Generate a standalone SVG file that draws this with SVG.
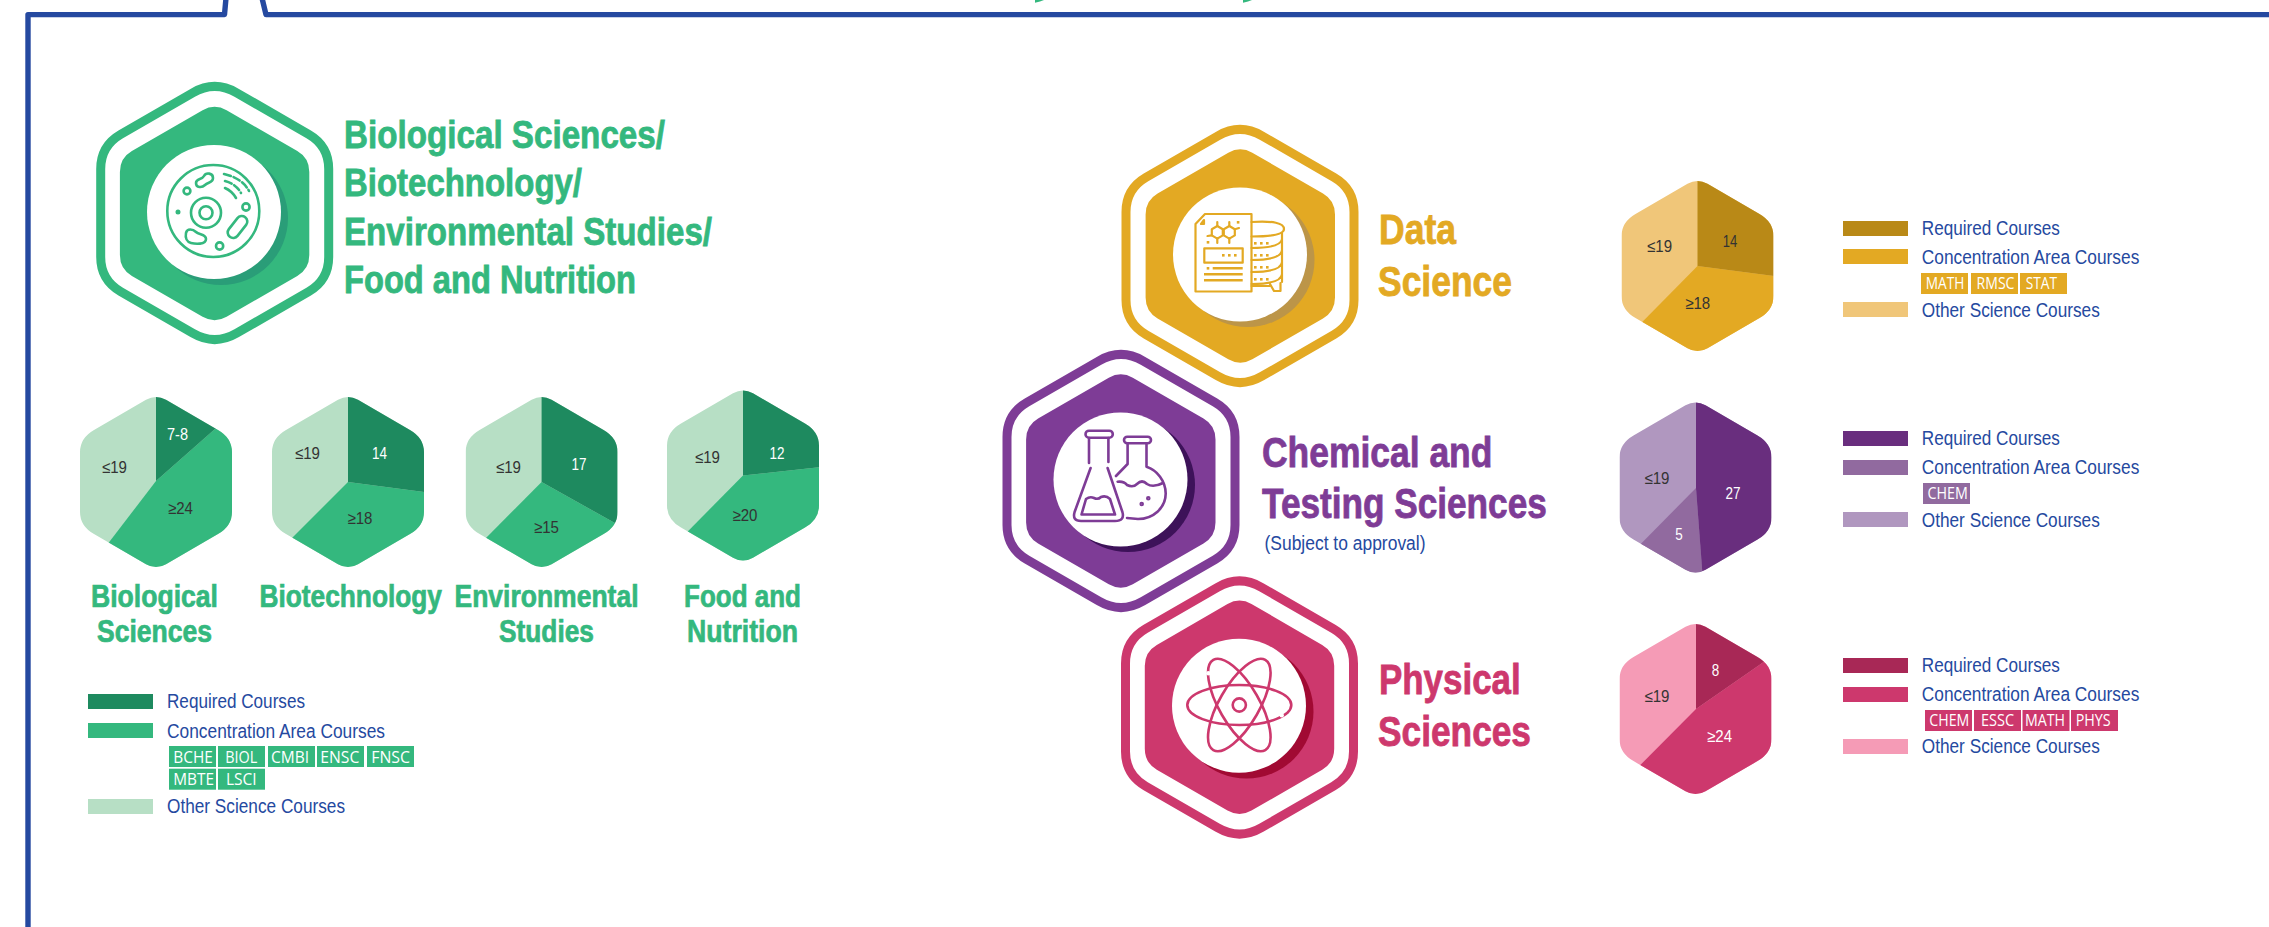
<svg xmlns="http://www.w3.org/2000/svg" width="2269" height="927" viewBox="0 0 2269 927">
<style>
text{font-family:"Liberation Sans",Arial,sans-serif}
.hd{font-weight:700;font-size:38px;stroke-width:.8px}
.hl{font-weight:700;font-size:42px;stroke-width:.8px}
.sb{font-weight:700;font-size:30.6px;fill:#34b87e;stroke:#34b87e;stroke-width:.7px}
.hd.g{stroke:#34b87e}.hl.y{stroke:#e3a923}.hl.p{stroke:#7e3c96}.hl.r{stroke:#cd386d}
.lg{font-size:20px;fill:#2549a0}
.tg{font-family:"Open Sans","Liberation Sans",sans-serif;font-size:16px;fill:#fff}
.n{font-size:16.5px;text-anchor:middle}
.dk{fill:#333}
.wh{fill:#fff}
.frame{fill:none;stroke:#2549a0;stroke-width:5.4;stroke-linejoin:round}
.ring{fill:none;stroke-width:9}
.g{fill:#34b87e}.gd{fill:#1e8a5f}.gl{fill:#b7dfc5}
.y{fill:#e3a923}.yd{fill:#b98917}.yl{fill:#f0c679}
.p{fill:#7e3c96}.pd{fill:#692e7e}.pm{fill:#916a9f}.pl{fill:#b097bf}
.r{fill:#cd386d}.rd{fill:#a82856}.rl{fill:#f59bb6}
.ic{fill:none;stroke-width:2.6;stroke-linecap:round;stroke-linejoin:round}
.icg{stroke:#34b87e}.icy{stroke:#e3a923}.icp{stroke:#7e3c96}.icr{stroke:#cd386d}
</style>
<defs>
<path id="ho" d="M-22,-120.2Q0,-133 22,-120.2L94,-78.6Q114,-67 114,-44L114,44Q114,67 94,78.6L22,120.2Q0,133 -22,120.2L-94,78.6Q-114,67 -114,44L-114,-44Q-114,-67 -94,-78.6Z"/>
<path id="hi" d="M-12,-103.3Q0,-110.2 12,-103.3L82.7,-62.4Q94.7,-55.5 94.7,-41.5L94.7,41.5Q94.7,55.5 82.7,62.4L12,103.3Q0,110.2 -12,103.3L-82.7,62.4Q-94.7,55.5 -94.7,41.5L-94.7,-41.5Q-94.7,-55.5 -82.7,-62.4Z"/>
<clipPath id="hc"><path d="M-10,-82.2Q0,-88 10,-82.2L62,-52.1Q76,-44 76,-30L76,30Q76,44 62,52.1L10,82.2Q0,88 -10,82.2L-62,52.1Q-76,44 -76,30L-76,-30Q-76,-44 -62,-52.1Z"/></clipPath>
</defs>
<rect width="2269" height="927" fill="#fff"/>
<g id="connectors">
<path class="frame" d="M28,927L28,14.6L224.5,14.6L226,-2"/>
<path class="frame" d="M262,-2L266,14.6L2272,14.6"/>
</g>
<polygon class="g" points="1035,0 1044,0 1040,1.5 1035,2.7"/>
<polygon class="g" points="1243,0 1252,0 1248,1.5 1243,2.7"/>

<g id="biological-main">
<use href="#ho" transform="translate(214.7,213)" class="ring" stroke="#34b87e"/>
<use href="#hi" transform="translate(214.6,213.5)" class="g"/>
<circle cx="221" cy="218" r="67" fill="#2a9d78"/>
<circle cx="214" cy="212" r="67" fill="#fff"/>
<g class="ic icg">
<circle cx="213.3" cy="211" r="46"/>
<circle cx="206" cy="212.7" r="15"/>
<circle cx="206" cy="212.7" r="6.5"/>
<circle cx="187" cy="191" r="3.4"/>
<circle cx="246" cy="207" r="3.6"/>
<circle cx="219.6" cy="246" r="3.6"/>
<circle cx="178" cy="212" r="1.2"/>
<path d="M196,183C196,178 202,180 204,176C206,172 213,173 213,178C213,183 208,182 205,185C202,188 196,188 196,183Z"/>
<rect x="-12.5" y="-5.5" width="25" height="11" rx="5.5" transform="translate(237.5,227) rotate(-52)"/>
<path d="M186,233C187,228 193,229 196,232C199,235 206,234 206,239C206,245 195,244 191,243C187,242 185,238 186,233Z"/>
<path d="M224,174Q242,178 249,191" stroke-dasharray="7 3"/>
<path d="M225,181Q236,184 241,193" stroke-dasharray="7 3"/>
<path d="M225,188Q232,191 236,198"/>
</g>
<text class="hd g" x="344" y="148" textLength="321" lengthAdjust="spacingAndGlyphs">Biological Sciences/</text>
<text class="hd g" x="344" y="196" textLength="238" lengthAdjust="spacingAndGlyphs">Biotechnology/</text>
<text class="hd g" x="344" y="245" textLength="368" lengthAdjust="spacingAndGlyphs">Environmental Studies/</text>
<text class="hd g" x="344" y="293" textLength="292" lengthAdjust="spacingAndGlyphs">Food and Nutrition</text>
</g>

<g id="hex-biological" transform="translate(156,482)">
<g clip-path="url(#hc)">
<rect class="gl" x="-100" y="-100" width="200" height="200"/>
<polygon class="g" points="0,-1 118,-105 118,120 -92,120 -92,119"/>
<polygon class="gd" points="0,-1 0,-100 118,-105"/>
</g>
</g>
<g id="hex-biotechnology" transform="translate(348,482)">
<g clip-path="url(#hc)">
<rect class="gl" x="-100" y="-100" width="200" height="200"/>
<polygon class="g" points="0,0 100,13 100,100 -82,100 -82,82"/>
<polygon class="gd" points="0,0 0,-100 100,-100 100,13"/>
</g>
</g>
<g id="hex-environmental" transform="translate(541.6,482)">
<g clip-path="url(#hc)">
<rect class="gl" x="-100" y="-100" width="200" height="200"/>
<polygon class="g" points="0,0 100,56 100,100 -82,100 -82,82.6"/>
<polygon class="gd" points="0,0 0,-100 100,-100 100,56"/>
</g>
</g>
<g id="hex-food" transform="translate(743,475.5)">
<g clip-path="url(#hc)">
<rect class="gl" x="-100" y="-100" width="200" height="200"/>
<polygon class="g" points="0,0 100,-11 100,100 -82,100 -82,83"/>
<polygon class="gd" points="0,0 0,-100 100,-100 100,-11"/>
</g>
</g>
<g id="green-values">
<text class="n wh" x="177.5" y="440" textLength="21" lengthAdjust="spacingAndGlyphs">7-8</text>
<text class="n dk" x="114.5" y="473" textLength="25" lengthAdjust="spacingAndGlyphs">≤19</text>
<text class="n dk" x="180.5" y="514" textLength="25" lengthAdjust="spacingAndGlyphs">≥24</text>
<text class="n dk" x="307.5" y="459" textLength="25" lengthAdjust="spacingAndGlyphs">≤19</text>
<text class="n wh" x="379.5" y="459" textLength="15" lengthAdjust="spacingAndGlyphs">14</text>
<text class="n dk" x="360" y="524" textLength="25" lengthAdjust="spacingAndGlyphs">≥18</text>
<text class="n dk" x="508.5" y="473" textLength="25" lengthAdjust="spacingAndGlyphs">≤19</text>
<text class="n wh" x="579" y="470" textLength="15" lengthAdjust="spacingAndGlyphs">17</text>
<text class="n dk" x="546.5" y="533" textLength="25" lengthAdjust="spacingAndGlyphs">≥15</text>
<text class="n dk" x="707.5" y="463" textLength="25" lengthAdjust="spacingAndGlyphs">≤19</text>
<text class="n wh" x="777" y="459" textLength="15" lengthAdjust="spacingAndGlyphs">12</text>
<text class="n dk" x="745" y="521" textLength="25" lengthAdjust="spacingAndGlyphs">≥20</text>
</g>
<g id="green-labels">
<text class="sb" x="91" y="607" textLength="127" lengthAdjust="spacingAndGlyphs">Biological</text>
<text class="sb" x="97" y="642" textLength="115" lengthAdjust="spacingAndGlyphs">Sciences</text>
<text class="sb" x="259.5" y="607" textLength="182.5" lengthAdjust="spacingAndGlyphs">Biotechnology</text>
<text class="sb" x="454.5" y="607" textLength="184" lengthAdjust="spacingAndGlyphs">Environmental</text>
<text class="sb" x="499" y="642" textLength="95" lengthAdjust="spacingAndGlyphs">Studies</text>
<text class="sb" x="684" y="607" textLength="117" lengthAdjust="spacingAndGlyphs">Food and</text>
<text class="sb" x="687" y="642" textLength="111" lengthAdjust="spacingAndGlyphs">Nutrition</text>
</g>
<g id="legend-green">
<rect class="gd" x="88" y="694" width="65" height="15"/>
<rect class="g" x="88" y="723" width="65" height="15"/>
<rect class="gl" x="88" y="799" width="65" height="15"/>
<text class="lg" x="167" y="708" textLength="138" lengthAdjust="spacingAndGlyphs">Required Courses</text>
<text class="lg" x="167" y="737.7" textLength="218" lengthAdjust="spacingAndGlyphs">Concentration Area Courses</text>
<text class="lg" x="167" y="812.7" textLength="178" lengthAdjust="spacingAndGlyphs">Other Science Courses</text>
<rect class="g" x="169" y="746" width="47" height="21"/><rect class="g" x="218" y="746" width="47" height="21"/><rect class="g" x="268" y="746" width="47" height="21"/><rect class="g" x="317" y="746" width="47" height="21"/><rect class="g" x="367" y="746" width="47" height="21"/>
<rect class="g" x="169" y="768.7" width="47" height="21"/><rect class="g" x="218" y="768.7" width="47" height="21"/>
<text class="tg" x="173.3" y="762.7" textLength="39.5" lengthAdjust="spacingAndGlyphs">BCHE</text>
<text class="tg" x="225.3" y="762.7" textLength="32" lengthAdjust="spacingAndGlyphs">BIOL</text>
<text class="tg" x="271" y="762.7" textLength="38" lengthAdjust="spacingAndGlyphs">CMBI</text>
<text class="tg" x="320.3" y="762.7" textLength="39" lengthAdjust="spacingAndGlyphs">ENSC</text>
<text class="tg" x="371.3" y="762.7" textLength="38.7" lengthAdjust="spacingAndGlyphs">FNSC</text>
<text class="tg" x="173.3" y="784.7" textLength="40.7" lengthAdjust="spacingAndGlyphs">MBTE</text>
<text class="tg" x="226" y="784.7" textLength="30.7" lengthAdjust="spacingAndGlyphs">LSCI</text>
</g>

<g id="data-science">
<use href="#ho" transform="translate(1240,256)" class="ring" stroke="#e3a923"/>
<use href="#hi" transform="translate(1240.3,256)" class="y"/>
<circle cx="1247.5" cy="260" r="67" fill="#bc9548"/>
<circle cx="1240" cy="254.5" r="67" fill="#fff"/>
<g class="ic icy" style="stroke-width:2.2">
<path d="M1205,214L1251.5,214L1251.5,291.5L1195.5,291.5L1195.5,224Z"/>
<path d="M1201,224L1204,224L1204,220Z"/>
<polygon points="1217.3,226 1222.8,229.2 1222.8,235.4 1217.3,238.6 1211.8,235.4 1211.8,229.2"/>
<polygon points="1229.3,226 1234.8,229.2 1234.8,235.4 1229.3,238.6 1223.8,235.4 1223.8,229.2"/>
<path d="M1217.3,226V222M1229.3,226V222M1217.3,238.6V243M1229.3,238.6V243M1211.8,235.4L1207.5,236M1234.8,229.2L1239,228"/>
<rect x="1204.3" y="248.3" width="38.4" height="14.4"/>
<path d="M1212.7,268.3H1242.7M1204,274.3H1242.7M1204,280.3H1242.7" stroke-width="2.6" stroke-linecap="butt"/>
<path d="M1251.5,222Q1284,220 1284,229Q1284,236.5 1251.5,236.5"/>
<path d="M1282,233V282M1251.5,248Q1281,248 1282,239M1251.5,260Q1281,260 1282,250M1251.5,272Q1281,272 1282,262M1251.5,284Q1281,284 1282,274M1251.5,286H1270"/>
<path d="M1270,284L1274,291L1280.5,291L1280.5,283"/>
</g>
<g class="y">
<rect x="1222" y="254" width="2.6" height="2.6"/><rect x="1228" y="254" width="2.6" height="2.6"/><rect x="1234" y="254" width="2.6" height="2.6"/>
<rect x="1206.7" y="267" width="2.6" height="2.6"/><rect x="1206.7" y="241" width="2.6" height="2.6"/><rect x="1236.8" y="221" width="2.6" height="2.6"/>
<rect x="1254" y="242" width="2.6" height="2.6"/><rect x="1260" y="242" width="2.6" height="2.6"/><rect x="1266" y="242" width="2.6" height="2.6"/>
<rect x="1254" y="254" width="2.6" height="2.6"/><rect x="1260" y="254" width="2.6" height="2.6"/><rect x="1266" y="254" width="2.6" height="2.6"/>
<rect x="1254" y="266" width="2.6" height="2.6"/><rect x="1260" y="266" width="2.6" height="2.6"/><rect x="1266" y="266" width="2.6" height="2.6"/>
<rect x="1254" y="278" width="2.6" height="2.6"/><rect x="1260" y="278" width="2.6" height="2.6"/><rect x="1266" y="278" width="2.6" height="2.6"/>
</g>
<text class="hl y" x="1379" y="244" textLength="77" lengthAdjust="spacingAndGlyphs">Data</text>
<text class="hl y" x="1378" y="295.7" textLength="134" lengthAdjust="spacingAndGlyphs">Science</text>
</g>

<g id="chemical-testing">
<use href="#ho" transform="translate(1121,481)" class="ring" stroke="#7e3c96"/>
<use href="#hi" transform="translate(1120.8,481)" class="p"/>
<circle cx="1128" cy="485" r="67" fill="#3d1259"/>
<circle cx="1120.5" cy="479.5" r="67" fill="#fff"/>
<g class="ic icp">
<rect x="1085.5" y="430.7" width="27.3" height="7" rx="3.5"/>
<path d="M1089,438V463M1108.4,438V462"/>
<path d="M1090.6,468L1074.6,512Q1072,521 1081,521L1115,521Q1125,521 1122.4,512L1107.6,468"/>
<path d="M1081.5,514.5L1086,499Q1090,496 1094,498Q1098,500 1101,497Q1106,495 1110,499L1115,514.5Z"/>
<rect x="1124" y="436.7" width="27" height="6.6" rx="3.3"/>
<path d="M1127.6,444V464L1116,476M1146.5,444V466.7C1157,470 1165.7,481 1165.7,493.5C1165.7,508 1153,519 1138,519L1127,518"/>
<path d="M1117.6,481.7Q1124,481 1127,485Q1133,488 1137,484Q1142,479 1147,484Q1153,488 1163,483"/>
<circle cx="1141.7" cy="504" r="1"/><circle cx="1148.3" cy="498.3" r="1"/>
</g>
<text class="hl p" x="1262" y="466.7" textLength="230.4" lengthAdjust="spacingAndGlyphs">Chemical and</text>
<text class="hl p" x="1262" y="518.3" textLength="284.8" lengthAdjust="spacingAndGlyphs">Testing Sciences</text>
<text class="lg" x="1264.5" y="550" textLength="161" lengthAdjust="spacingAndGlyphs">(Subject to approval)</text>
</g>

<g id="physical-sciences">
<use href="#ho" transform="translate(1239.5,707.5)" class="ring" stroke="#cd386d"/>
<use href="#hi" transform="translate(1239.5,707.3)" class="r"/>
<circle cx="1246.5" cy="711.5" r="67" fill="#a10a33"/>
<circle cx="1239" cy="705.7" r="67" fill="#fff"/>
<g class="ic icr">
<ellipse cx="1239.3" cy="705" rx="52" ry="20"/>
<ellipse cx="1239.3" cy="705" rx="52" ry="20" transform="rotate(60 1239.3 705)"/>
<ellipse cx="1239.3" cy="705" rx="52" ry="20" transform="rotate(-60 1239.3 705)"/>
<circle cx="1239.3" cy="705" r="6.6"/>
</g>
<circle cx="1281.7" cy="715.3" r="2.2" fill="#fff"/>
<circle cx="1208.3" cy="673.3" r="2.2" fill="#fff"/>
<text class="hl r" x="1379" y="694" textLength="141.7" lengthAdjust="spacingAndGlyphs">Physical</text>
<text class="hl r" x="1378" y="745.7" textLength="153" lengthAdjust="spacingAndGlyphs">Sciences</text>
</g>

<g id="hex-data" transform="translate(1697.5,266)">
<g clip-path="url(#hc)">
<rect class="yl" x="-100" y="-100" width="200" height="200"/>
<polygon class="y" points="0,0 100,13 100,100 -82,100 -82,83"/>
<polygon class="yd" points="0,0 0,-100 100,-100 100,13"/>
</g>
</g>
<g id="hex-chemical" transform="translate(1695.5,487.5)">
<g clip-path="url(#hc)">
<rect class="pl" x="-100" y="-100" width="200" height="200"/>
<polygon class="pm" points="0.5,0.5 8,100 -82,100 -82,84"/>
<polygon class="pd" points="0.5,0.5 0.5,-100 100,-100 100,100 8,100"/>
</g>
</g>
<g id="hex-physical" transform="translate(1695.5,709)">
<g clip-path="url(#hc)">
<rect class="rl" x="-100" y="-100" width="200" height="200"/>
<polygon class="r" points="0.5,0 100,-69 100,100 -82,100 -82,83"/>
<polygon class="rd" points="0.5,0 0.5,-100 100,-100 100,-69"/>
</g>
</g>
<g id="right-values">
<text class="n dk" x="1730" y="247" textLength="14.5" lengthAdjust="spacingAndGlyphs">14</text>
<text class="n dk" x="1659.6" y="251.7" textLength="25" lengthAdjust="spacingAndGlyphs">≤19</text>
<text class="n dk" x="1697.7" y="309.3" textLength="25" lengthAdjust="spacingAndGlyphs">≥18</text>
<text class="n dk" x="1657" y="483.7" textLength="25" lengthAdjust="spacingAndGlyphs">≤19</text>
<text class="n wh" x="1733" y="499" textLength="15" lengthAdjust="spacingAndGlyphs">27</text>
<text class="n wh" x="1679" y="540" textLength="7.5" lengthAdjust="spacingAndGlyphs">5</text>
<text class="n dk" x="1657" y="701.7" textLength="25" lengthAdjust="spacingAndGlyphs">≤19</text>
<text class="n wh" x="1715.6" y="676" textLength="7.5" lengthAdjust="spacingAndGlyphs">8</text>
<text class="n wh" x="1719.6" y="742.3" textLength="25" lengthAdjust="spacingAndGlyphs">≥24</text>
</g>

<g id="legend-data">
<rect class="yd" x="1843" y="221" width="65" height="15"/>
<rect class="y" x="1843" y="249" width="65" height="15"/>
<rect class="yl" x="1843" y="302" width="65" height="15"/>
<text class="lg" x="1921.8" y="235" textLength="138" lengthAdjust="spacingAndGlyphs">Required Courses</text>
<text class="lg" x="1921.8" y="264" textLength="217.5" lengthAdjust="spacingAndGlyphs">Concentration Area Courses</text>
<text class="lg" x="1921.8" y="316.7" textLength="178" lengthAdjust="spacingAndGlyphs">Other Science Courses</text>
<rect class="y" x="1921" y="273" width="47" height="21"/><rect class="y" x="1971" y="273" width="47" height="21"/><rect class="y" x="2020" y="273" width="47" height="21"/>
<text class="tg" x="1925.7" y="289.3" textLength="38.6" lengthAdjust="spacingAndGlyphs">MATH</text>
<text class="tg" x="1976.5" y="289.3" textLength="38" lengthAdjust="spacingAndGlyphs">RMSC</text>
<text class="tg" x="2025.7" y="289.3" textLength="31.4" lengthAdjust="spacingAndGlyphs">STAT</text>
</g>
<g id="legend-chemical">
<rect class="pd" x="1843" y="431" width="65" height="15"/>
<rect class="pm" x="1843" y="460" width="65" height="15"/>
<rect class="pl" x="1843" y="512" width="65" height="15"/>
<text class="lg" x="1921.8" y="445" textLength="138" lengthAdjust="spacingAndGlyphs">Required Courses</text>
<text class="lg" x="1921.8" y="474" textLength="217.5" lengthAdjust="spacingAndGlyphs">Concentration Area Courses</text>
<text class="lg" x="1921.8" y="526.7" textLength="178" lengthAdjust="spacingAndGlyphs">Other Science Courses</text>
<rect class="pm" x="1923" y="483" width="47" height="21"/>
<text class="tg" x="1927.5" y="499.3" textLength="40.3" lengthAdjust="spacingAndGlyphs">CHEM</text>
</g>
<g id="legend-physical">
<rect class="rd" x="1843" y="658" width="65" height="15"/>
<rect class="r" x="1843" y="687" width="65" height="15"/>
<rect class="rl" x="1843" y="739" width="65" height="15"/>
<text class="lg" x="1921.8" y="672" textLength="138" lengthAdjust="spacingAndGlyphs">Required Courses</text>
<text class="lg" x="1921.8" y="701" textLength="217.5" lengthAdjust="spacingAndGlyphs">Concentration Area Courses</text>
<text class="lg" x="1921.8" y="753.3" textLength="178" lengthAdjust="spacingAndGlyphs">Other Science Courses</text>
<rect class="r" x="1925" y="710" width="47" height="21"/><rect class="r" x="1974" y="710" width="47" height="21"/><rect class="r" x="2022.5" y="710" width="47" height="21"/><rect class="r" x="2071" y="710" width="47" height="21"/>
<text class="tg" x="1929.3" y="726.3" textLength="40" lengthAdjust="spacingAndGlyphs">CHEM</text>
<text class="tg" x="1981" y="726.3" textLength="33" lengthAdjust="spacingAndGlyphs">ESSC</text>
<text class="tg" x="2025" y="726.3" textLength="40" lengthAdjust="spacingAndGlyphs">MATH</text>
<text class="tg" x="2075.7" y="726.3" textLength="35" lengthAdjust="spacingAndGlyphs">PHYS</text>
</g>
</svg>
